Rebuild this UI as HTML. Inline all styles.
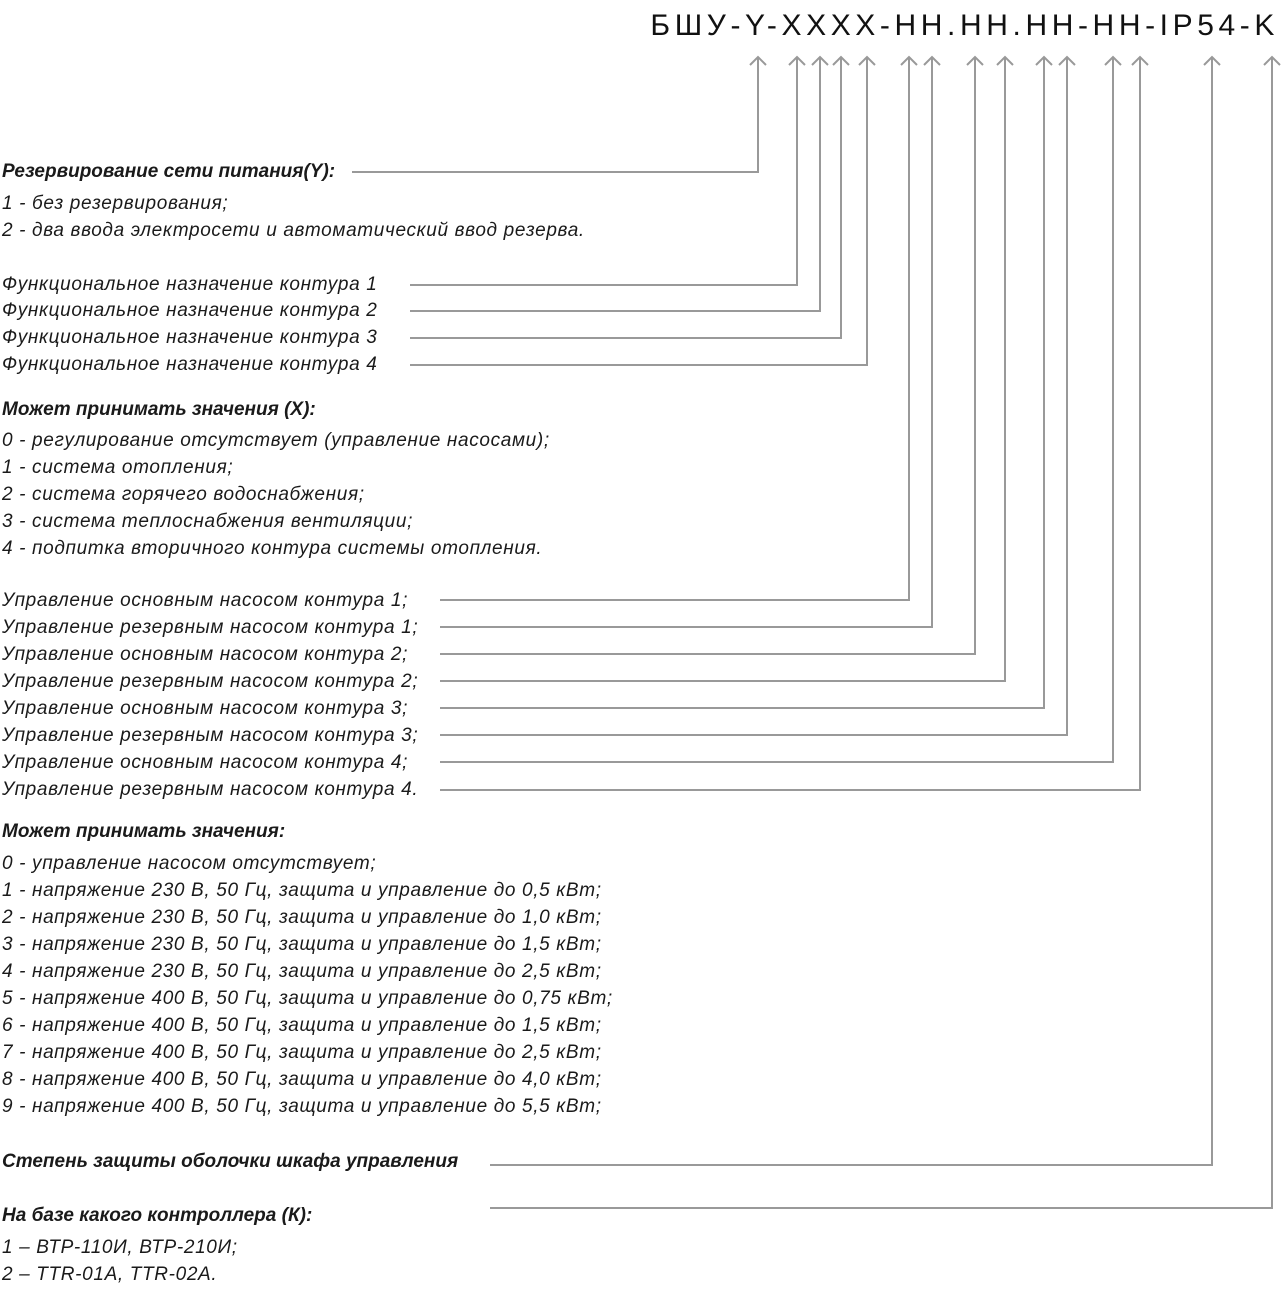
<!DOCTYPE html>
<html><head><meta charset="utf-8">
<style>
html,body{margin:0;padding:0;background:#fff;}
body{width:1281px;height:1298px;position:relative;overflow:hidden;font-family:"Liberation Sans","DejaVu Sans",sans-serif;color:#1a1a1a;}
.t{position:absolute;left:2px;font-style:italic;font-size:19px;line-height:24px;white-space:nowrap;letter-spacing:0.65px;}
.b{font-weight:bold;letter-spacing:0px;}
.title{position:absolute;right:2px;top:8px;font-size:30px;letter-spacing:4.6px;line-height:36px;color:#111;white-space:nowrap;}
svg{position:absolute;left:0;top:0;}
</style></head><body>
<div class="title">БШУ-Y-XXXX-HH.HH.HH-HH-IP54-K</div>
<svg width="1281" height="1298" viewBox="0 0 1281 1298" fill="none" stroke="#999" stroke-width="2">
<g>
<path d="M352 172H758V57"/>
<path d="M410 285H797V57"/>
<path d="M410 311H820V57"/>
<path d="M410 338H841V57"/>
<path d="M410 365H867V57"/>
<path d="M440 600H909V57"/>
<path d="M440 627H932V57"/>
<path d="M440 654H975V57"/>
<path d="M440 681H1005V57"/>
<path d="M440 708H1044V57"/>
<path d="M440 735H1067V57"/>
<path d="M440 762H1113V57"/>
<path d="M440 790H1140V57"/>
<path d="M490 1165H1212V57"/>
<path d="M490 1208H1272V57"/>
</g>
<g>
<path d="M750 65L758 57L766 65"/>
<path d="M789 65L797 57L805 65"/>
<path d="M812 65L820 57L828 65"/>
<path d="M833 65L841 57L849 65"/>
<path d="M859 65L867 57L875 65"/>
<path d="M901 65L909 57L917 65"/>
<path d="M924 65L932 57L940 65"/>
<path d="M967 65L975 57L983 65"/>
<path d="M997 65L1005 57L1013 65"/>
<path d="M1036 65L1044 57L1052 65"/>
<path d="M1059 65L1067 57L1075 65"/>
<path d="M1105 65L1113 57L1121 65"/>
<path d="M1132 65L1140 57L1148 65"/>
<path d="M1204 65L1212 57L1220 65"/>
<path d="M1264 65L1272 57L1280 65"/>
</g>
</svg>
<div class="t b" style="top:160px">Резервирование сети питания(Y):</div>
<div class="t" style="top:192px">1 - без резервирования;</div>
<div class="t" style="top:219px">2 - два ввода электросети и автоматический ввод резерва.</div>
<div class="t" style="top:273px">Функциональное назначение контура 1</div>
<div class="t" style="top:299px">Функциональное назначение контура 2</div>
<div class="t" style="top:326px">Функциональное назначение контура 3</div>
<div class="t" style="top:353px">Функциональное назначение контура 4</div>
<div class="t b" style="top:398px">Может принимать значения (X):</div>
<div class="t" style="top:429px">0 - регулирование отсутствует (управление насосами);</div>
<div class="t" style="top:456px">1 - система отопления;</div>
<div class="t" style="top:483px">2 - система горячего водоснабжения;</div>
<div class="t" style="top:510px">3 - система теплоснабжения вентиляции;</div>
<div class="t" style="top:537px">4 - подпитка вторичного контура системы отопления.</div>
<div class="t" style="top:589px">Управление основным насосом контура 1;</div>
<div class="t" style="top:616px">Управление резервным насосом контура 1;</div>
<div class="t" style="top:643px">Управление основным насосом контура 2;</div>
<div class="t" style="top:670px">Управление резервным насосом контура 2;</div>
<div class="t" style="top:697px">Управление основным насосом контура 3;</div>
<div class="t" style="top:724px">Управление резервным насосом контура 3;</div>
<div class="t" style="top:751px">Управление основным насосом контура 4;</div>
<div class="t" style="top:778px">Управление резервным насосом контура 4.</div>
<div class="t b" style="top:820px">Может принимать значения:</div>
<div class="t" style="top:852px">0 - управление насосом отсутствует;</div>
<div class="t" style="top:879px">1 - напряжение 230 В, 50 Гц, защита и управление до 0,5 кВт;</div>
<div class="t" style="top:906px">2 - напряжение 230 В, 50 Гц, защита и управление до 1,0 кВт;</div>
<div class="t" style="top:933px">3 - напряжение 230 В, 50 Гц, защита и управление до 1,5 кВт;</div>
<div class="t" style="top:960px">4 - напряжение 230 В, 50 Гц, защита и управление до 2,5 кВт;</div>
<div class="t" style="top:987px">5 - напряжение 400 В, 50 Гц, защита и управление до 0,75 кВт;</div>
<div class="t" style="top:1014px">6 - напряжение 400 В, 50 Гц, защита и управление до 1,5 кВт;</div>
<div class="t" style="top:1041px">7 - напряжение 400 В, 50 Гц, защита и управление до 2,5 кВт;</div>
<div class="t" style="top:1068px">8 - напряжение 400 В, 50 Гц, защита и управление до 4,0 кВт;</div>
<div class="t" style="top:1095px">9 - напряжение 400 В, 50 Гц, защита и управление до 5,5 кВт;</div>
<div class="t b" style="top:1150px">Степень защиты оболочки шкафа управления</div>
<div class="t b" style="top:1204px">На базе какого контроллера (К):</div>
<div class="t" style="top:1236px">1 – ВТР-110И, ВТР-210И;</div>
<div class="t" style="top:1263px">2 – TTR-01A, TTR-02A.</div>
</body></html>
